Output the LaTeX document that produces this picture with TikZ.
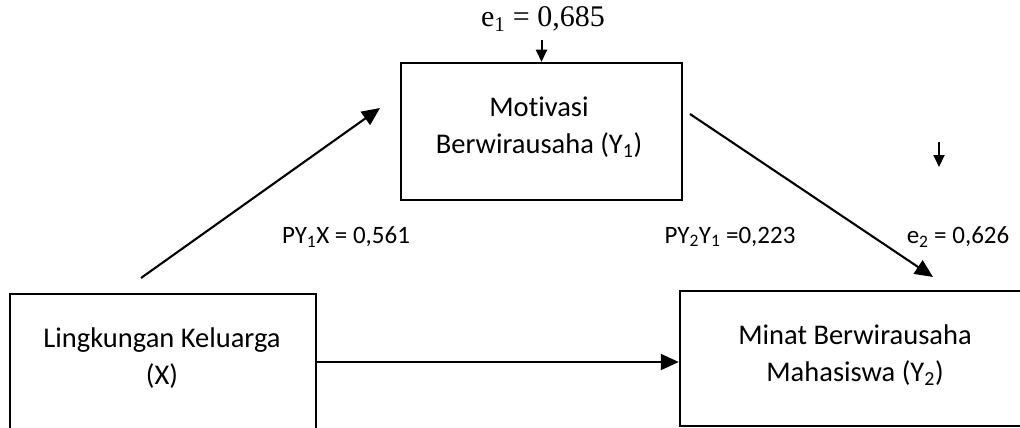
\documentclass[tikz,border=0pt]{standalone}
\usepackage{fontspec}
\setmainfont{Carlito}[Ligatures=NoCommon]
\newfontfamily\serifx{Liberation Serif}
\usetikzlibrary{arrows.meta}
\begin{document}
\begin{tikzpicture}[x=1pt,y=-1pt,
  box/.style={draw=black,line width=2.5pt,rectangle,inner sep=0pt},
  txt/.style={inner sep=0pt,align=center,font=\fontsize{28.5}{37}\selectfont},
  lbl/.style={inner sep=0pt,font=\fontsize{25}{28}\selectfont},
  arr/.style={line width=2.1pt,-{Triangle[length=18pt,width=16pt]}},
  sarr/.style={line width=2pt,-{Triangle[length=12pt,width=11pt]}}]
\useasboundingbox (0,0) rectangle (1020,428);
\clip (0,0) rectangle (1020,428);
\node[box,minimum width=281pt,minimum height=137pt] (Y1) at (541.5,131.5) {};
\node[txt] (Y1t) at (539,127) {Motivasi\\Berwirausaha (Y\textsubscript{1})};
\node[box,minimum width=306pt,minimum height=136pt] (X) at (163,362) {};
\node[txt] (Xt) at (162,358) {Lingkungan Keluarga\\(X)};
\node[box,minimum width=345pt,minimum height=135pt] (Y2) at (852.5,358.5) {};
\node[txt] (Y2t) at (855,355) {Minat Berwirausaha\\Mahasiswa (Y\textsubscript{2})};
\node[inner sep=0pt,font=\fontsize{30}{32}\selectfont\serifx] (e1) at (543,19)
  {e\textsubscript{1} = 0,685};
\node[lbl] (p1) at (346,237) {PY\textsubscript{1}X = 0,561};
\node[lbl] (p2) at (730,237) {PY\textsubscript{2}Y\textsubscript{1} =0,223};
\node[lbl] (e2) at (958,237) {e\textsubscript{2} = 0,626};
\coordinate (a1s) at (141,278);
\coordinate (a1e) at (380,108);
\coordinate (a2s) at (690,114);
\coordinate (a2e) at (933,277);
\coordinate (e2a) at (939,142);
\coordinate (e2b) at (939,167);
\coordinate (e1a) at (541.5,40);
\draw[arr] (a1s) -- (a1e);
\draw[arr] (a2s) -- (a2e);
\draw[arr] (X.east) -- (X.east -| Y2.west);
\draw[sarr] (e1a) -- (Y1.north);
\draw[sarr] (e2a) -- (e2b);
\end{tikzpicture}
\end{document}
